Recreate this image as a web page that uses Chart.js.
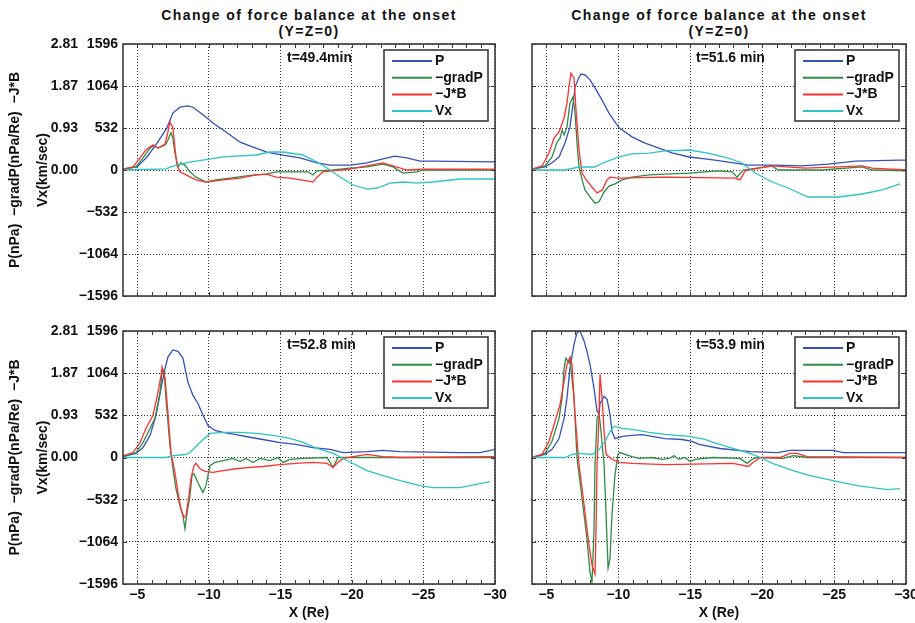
<!DOCTYPE html>
<html>
<head>
<meta charset="utf-8">
<script src="https://cdn.jsdelivr.net/npm/chart.js@4.4.1/dist/chart.umd.min.js"></script>
<style>
  html, body { margin: 0; padding: 0; background: #fff; overflow: hidden; }
  #page { position: relative; width: 915px; height: 623px; }
  canvas { position: absolute; }
  .title { position: absolute; text-align: center; font: bold 14px "Liberation Sans", Arial, sans-serif;
           letter-spacing: 1.4px; line-height: 16px; color: #111; }
</style>
</head>
<body>
<div id="page">
  <div class="title" style="left:123px; top:7px; width:372px">Change of force balance at the onset<br>(Y=Z=0)</div>
  <div class="title" style="left:532px; top:7px; width:374px">Change of force balance at the onset<br>(Y=Z=0)</div>
  <canvas id="c1" width="515" height="310" style="left:0; top:0"></canvas>
  <canvas id="c2" width="430" height="310" style="left:500px; top:0"></canvas>
  <canvas id="c3" width="515" height="313" style="left:0; top:310px"></canvas>
  <canvas id="c4" width="430" height="313" style="left:500px; top:310px"></canvas>
</div>
<script>
// tick labels
const xTicks = [-5, -10, -15, -20, -25, -30];
const forceTicks = [0, 0.93, 1.87, 2.81];
const vxTicks = [-1596, -1064, -532, 0, 532, 1064, 1596];
const timeLabels = ['t=49.4min', 't=51.6 min', 't=52.8 min', 't=53.9 min'];
const seriesNames = ['P', '\u2212gradP', '\u2212J*B', 'Vx'];
const seriesColors = ['#3652b8', '#2e8c46', '#ff3030', '#2cc4c4'];

// [X (Re), value]  P/gradP/JxB in nPa(/Re), Vx in km/sec
// t=49.4
const p1 = [[-4.00,0.02],[-4.98,0.07],[-5.68,0.29],[-6.38,0.60],[-7.07,0.94],[-7.49,1.27],[-7.98,1.40],[-8.54,1.43],[-8.89,1.40],[-9.59,1.23],[-10.29,1.05],[-11.27,0.83],[-12.18,0.62],[-13.09,0.51],[-14.06,0.40],[-15.18,0.33],[-16.37,0.27],[-17.56,0.16],[-18.47,0.11],[-19.86,0.11],[-21.05,0.16],[-22.17,0.25],[-23.01,0.31],[-23.85,0.27],[-24.75,0.20],[-25.66,0.20],[-30.00,0.18]];
const g1 = [[-4.00,0.02],[-4.91,0.07],[-5.40,0.27],[-5.89,0.49],[-6.17,0.54],[-6.45,0.49],[-6.94,0.56],[-7.14,0.67],[-7.35,0.83],[-7.49,0.71],[-7.63,0.38],[-7.84,0.07],[-8.05,0.16],[-8.33,0.11],[-8.68,-0.04],[-9.10,-0.16],[-9.80,-0.27],[-10.50,-0.22],[-11.48,-0.18],[-12.60,-0.13],[-13.31,-0.11],[-14.01,-0.09],[-14.71,-0.04],[-15.67,-0.04],[-16.93,-0.04],[-17.28,-0.11],[-17.56,-0.02],[-18.68,0],[-19.86,0.04],[-21.05,0.07],[-22.17,0.13],[-22.87,0.07],[-23.57,-0.07],[-24.55,-0.04],[-24.96,0],[-30.00,0]];
const j1 = [[-4.00,0.02],[-4.70,0.07],[-5.19,0.27],[-5.61,0.45],[-6.10,0.56],[-6.45,0.49],[-6.94,0.58],[-7.14,0.85],[-7.28,1.07],[-7.49,0.94],[-7.63,0.49],[-7.77,0.11],[-7.98,-0.04],[-8.40,-0.11],[-9.10,-0.22],[-9.80,-0.27],[-10.99,-0.22],[-12.18,-0.18],[-13.31,-0.11],[-14.01,-0.09],[-14.71,-0.16],[-15.67,-0.18],[-16.93,-0.25],[-17.28,-0.27],[-17.56,-0.16],[-17.98,-0.04],[-19.86,0.02],[-21.05,0.09],[-22.17,0.16],[-22.87,0.09],[-23.85,0],[-24.96,0.02],[-30.00,0.02]];
const v1 = [[-4.00,0],[-7.00,13],[-7.70,63],[-8.68,101],[-10.99,165],[-13.31,190],[-14.27,228],[-15.18,228],[-16.58,190],[-17.56,101],[-18.26,25],[-19.17,-89],[-20.08,-190],[-21.05,-241],[-21.75,-228],[-22.66,-165],[-23.57,-152],[-24.55,-165],[-25.66,-152],[-27.55,-114],[-30.00,-114]];
// t=51.6
const p2 = [[-4.00,0.02],[-4.90,0.07],[-5.39,0.16],[-5.88,0.29],[-6.29,0.60],[-6.64,0.96],[-6.92,1.63],[-6.99,1.85],[-7.27,2.07],[-7.41,2.14],[-7.69,2.12],[-8.03,2.01],[-8.38,1.83],[-8.87,1.56],[-9.35,1.27],[-10.05,0.94],[-10.95,0.74],[-11.86,0.60],[-12.83,0.49],[-13.74,0.38],[-14.92,0.29],[-16.03,0.25],[-17.21,0.20],[-18.60,0.13],[-19.02,0.11],[-20.69,0.11],[-22.78,0.09],[-24.58,0.13],[-26.46,0.20],[-29.59,0.22],[-30.00,0.22]];
const g2 = [[-4.00,0.02],[-4.90,0.09],[-5.39,0.29],[-5.74,0.62],[-5.95,0.71],[-6.09,0.89],[-6.23,0.78],[-6.43,0.96],[-6.64,1.49],[-6.85,1.63],[-6.99,1.29],[-7.13,0.60],[-7.27,0.07],[-7.48,-0.22],[-7.69,-0.45],[-8.03,-0.60],[-8.38,-0.74],[-8.66,-0.71],[-9.01,-0.49],[-9.35,-0.36],[-9.77,-0.31],[-10.26,-0.22],[-10.95,-0.16],[-12.14,-0.11],[-13.25,-0.09],[-14.92,-0.07],[-16.93,-0.02],[-17.91,-0.04],[-18.26,-0.16],[-18.67,0],[-20.69,0.09],[-21.10,0],[-24.17,0],[-26.95,0.07],[-27.64,0],[-30.00,-0.02]];
const j2 = [[-4.00,0.02],[-4.70,0.09],[-5.18,0.38],[-5.53,0.71],[-5.88,0.85],[-6.23,1.16],[-6.43,1.49],[-6.57,1.85],[-6.71,2.16],[-6.92,2.05],[-7.06,1.34],[-7.27,0.45],[-7.48,-0.07],[-7.69,-0.18],[-8.17,-0.38],[-8.52,-0.51],[-8.87,-0.45],[-9.22,-0.22],[-9.42,-0.16],[-10.05,-0.18],[-13.25,-0.16],[-18.12,-0.18],[-18.46,-0.22],[-18.81,-0.02],[-19.02,0],[-20.69,0.09],[-22.98,0.04],[-25.28,0.07],[-26.95,0.09],[-27.64,0.04],[-30.00,0]];
const v2 = [[-4.00,0],[-6.29,0],[-7.27,38],[-8.38,38],[-9.08,101],[-10.05,165],[-10.95,203],[-12.14,215],[-13.25,241],[-14.92,253],[-16.24,215],[-17.63,152],[-18.60,89],[-19.51,-38],[-20.69,-152],[-21.80,-228],[-23.19,-342],[-24.17,-342],[-25.28,-342],[-26.95,-304],[-28.34,-253],[-29.59,-177]];
// t=52.8
const p3 = [[-4.00,0.02],[-4.91,0.09],[-5.40,0.22],[-5.89,0.49],[-6.31,0.94],[-6.66,1.54],[-6.94,1.98],[-7.14,2.23],[-7.49,2.39],[-7.84,2.36],[-8.19,2.21],[-8.54,1.67],[-8.89,1.38],[-9.24,1.20],[-9.59,0.94],[-9.94,0.71],[-10.43,0.60],[-10.99,0.56],[-11.90,0.51],[-12.87,0.45],[-13.78,0.40],[-14.97,0.33],[-16.09,0.29],[-17.28,0.22],[-18.47,0.18],[-19.38,0.11],[-21.05,0.13],[-22.17,0.16],[-23.36,0.13],[-27.55,0.11],[-28.95,0.11],[-30.00,0.18]];
const g3 = [[-4.00,0.02],[-4.91,0.11],[-5.40,0.33],[-5.89,0.65],[-6.24,0.87],[-6.59,1.45],[-6.73,1.90],[-6.87,1.94],[-7.00,1.32],[-7.28,0.27],[-7.49,-0.25],[-7.70,-0.69],[-7.98,-1.07],[-8.19,-1.29],[-8.33,-1.58],[-8.47,-1.25],[-8.68,-0.85],[-8.82,-0.40],[-8.96,-0.36],[-9.24,-0.56],[-9.59,-0.78],[-9.80,-0.62],[-10.08,-0.18],[-10.43,-0.11],[-10.99,-0.07],[-11.69,-0.02],[-12.18,-0.09],[-12.60,-0.02],[-13.08,-0.11],[-13.57,-0.02],[-14.27,-0.07],[-14.83,0],[-15.18,-0.11],[-15.67,-0.04],[-16.58,-0.02],[-18.26,0],[-18.68,-0.22],[-19.03,0],[-21.05,0],[-30.00,0]];
const j3 = [[-4.00,0.04],[-4.70,0.11],[-5.19,0.33],[-5.61,0.65],[-6.10,0.94],[-6.45,1.45],[-6.66,1.83],[-6.73,2.01],[-6.94,1.76],[-7.14,1.00],[-7.35,0.11],[-7.63,-0.33],[-7.84,-0.78],[-8.05,-1.14],[-8.26,-1.34],[-8.40,-1.29],[-8.61,-0.85],[-8.75,-0.47],[-8.96,-0.18],[-9.10,-0.13],[-9.38,-0.25],[-9.73,-0.31],[-10.29,-0.33],[-10.99,-0.29],[-11.90,-0.25],[-12.87,-0.22],[-13.78,-0.20],[-14.97,-0.16],[-16.09,-0.13],[-17.28,-0.11],[-18.26,-0.13],[-18.68,-0.22],[-18.96,-0.13],[-19.38,-0.02],[-21.05,0.07],[-22.17,0.02],[-23.36,0],[-30.00,0.02]];
const v3 = [[-4.00,0],[-7.00,0],[-7.49,25],[-8.40,38],[-8.68,63],[-9.38,190],[-10.08,304],[-10.99,317],[-12.18,317],[-13.31,304],[-14.50,279],[-15.67,241],[-16.58,190],[-17.56,114],[-18.68,51],[-19.38,-13],[-21.05,-165],[-22.17,-228],[-23.36,-292],[-24.75,-355],[-25.66,-380],[-27.55,-380],[-29.65,-304]];
// t=53.9
const p4 = [[-4.00,0],[-4.90,0.07],[-5.39,0.18],[-5.88,0.42],[-6.23,0.87],[-6.43,1.32],[-6.64,1.98],[-6.92,2.52],[-7.13,2.77],[-7.34,2.81],[-7.62,2.59],[-7.82,2.36],[-8.03,2.07],[-8.31,1.54],[-8.52,1.03],[-8.66,0.98],[-8.73,1.20],[-9.01,1.36],[-9.22,1.29],[-9.42,0.96],[-9.56,0.58],[-9.77,0.42],[-10.26,0.47],[-10.95,0.49],[-11.65,0.51],[-12.34,0.47],[-13.25,0.42],[-14.43,0.40],[-15.13,0.36],[-15.61,0.29],[-17.07,0.20],[-19.16,0.13],[-21.04,0.11],[-21.94,0.16],[-24.93,0.16],[-25.63,0.11],[-30.00,0.11]];
const g4 = [[-4.00,0],[-4.90,0.09],[-5.39,0.36],[-5.88,0.87],[-6.09,1.32],[-6.23,1.98],[-6.36,2.21],[-6.57,2.10],[-6.64,2.19],[-6.92,1.32],[-7.13,-0.02],[-7.48,-0.91],[-7.82,-1.81],[-8.03,-2.54],[-8.17,-2.77],[-8.31,-1.65],[-8.38,-0.16],[-8.52,0.87],[-8.66,0.96],[-8.73,0.80],[-9.01,-0.16],[-9.15,-1.27],[-9.29,-2.45],[-9.42,-2.25],[-9.56,-1.27],[-9.77,-0.38],[-9.98,0.07],[-10.12,0.11],[-10.47,0.07],[-10.95,0.02],[-11.44,-0.02],[-12.34,0],[-13.04,-0.04],[-13.53,-0.02],[-13.87,0.04],[-14.22,-0.04],[-14.64,0],[-14.99,-0.09],[-15.34,-0.04],[-16.59,0],[-18.46,-0.02],[-18.95,-0.13],[-19.30,-0.04],[-19.65,0],[-21.45,-0.02],[-22.15,0.04],[-23.13,0],[-30.00,0]];
const j4 = [[-4.00,0],[-4.70,0.07],[-5.18,0.36],[-5.60,0.80],[-5.95,1.18],[-6.23,1.69],[-6.43,2.07],[-6.64,2.23],[-6.78,2.07],[-6.99,0.96],[-7.27,-0.16],[-7.62,-1.05],[-7.96,-1.94],[-8.17,-2.39],[-8.38,-2.59],[-8.45,-1.65],[-8.52,-0.16],[-8.66,0.96],[-8.73,1.85],[-8.87,1.32],[-9.01,0.58],[-9.15,0.07],[-9.56,-0.04],[-10.05,-0.11],[-10.95,-0.13],[-13.25,-0.16],[-17.98,-0.13],[-19.02,-0.20],[-19.37,-0.11],[-19.86,0],[-21.25,0],[-21.94,0.09],[-22.43,0.09],[-23.13,0.02],[-30.00,0]];
const v4 = [[-4.00,0],[-6.29,0],[-6.78,38],[-7.27,51],[-8.17,38],[-8.66,101],[-9.08,203],[-9.42,329],[-9.70,392],[-10.26,367],[-10.95,355],[-12.14,317],[-13.25,292],[-14.92,266],[-16.03,228],[-16.59,190],[-17.98,114],[-19.16,51],[-19.86,0],[-20.76,-76],[-22.15,-165],[-23.33,-228],[-24.93,-292],[-26.60,-355],[-28.69,-406],[-29.59,-393]];

const FONT = '"Liberation Sans", Arial, sans-serif';
const tickFont = {family: FONT, size: 14, weight: 'bold'};
const minus = v => String(v).replace('-', '\u2212');

// box, inner tick marks, time stamp and legend
const framePlugin = {
  id: 'frame',
  afterDatasetsDraw(chart, args, opts) {
    const {ctx, chartArea: a, scales} = chart;
    ctx.save();
    ctx.strokeStyle = '#3a3a3a';
    ctx.lineWidth = 1;
    ctx.beginPath();
    for (let v = -5; v >= -30; v--) {
      const x = Math.round(scales.x.getPixelForValue(v)) + 0.5;
      ctx.moveTo(x, a.bottom); ctx.lineTo(x, a.bottom - 4);
      ctx.moveTo(x, a.top); ctx.lineTo(x, a.top + 4);
    }
    vxTicks.forEach(v => {
      const y = Math.round(scales.yV.getPixelForValue(v)) + 0.5;
      ctx.moveTo(a.left, y); ctx.lineTo(a.left + 4, y);
      ctx.moveTo(a.right, y); ctx.lineTo(a.right - 4, y);
    });
    ctx.stroke();
    ctx.lineWidth = 1.6;
    ctx.strokeRect(a.left, a.top, a.right - a.left, a.bottom - a.top);

    ctx.fillStyle = '#111';
    ctx.font = 'bold 14px ' + FONT;
    ctx.textBaseline = 'middle';
    ctx.fillText(opts.time, a.left + 164, a.top + 14);

    const bw = 104, bh = 71, bx = a.right - 7 - bw, by = a.top + 6;
    ctx.fillStyle = '#fff';
    ctx.fillRect(bx, by, bw, bh);
    ctx.strokeRect(bx, by, bw, bh);
    chart.data.datasets.forEach((ds, i) => {
      const y = by + 11 + i * 16.7;
      ctx.strokeStyle = ds.borderColor;
      ctx.lineWidth = 2;
      ctx.beginPath(); ctx.moveTo(bx + 8, y); ctx.lineTo(bx + 48, y); ctx.stroke();
      ctx.fillStyle = '#111';
      ctx.fillText(ds.label, bx + 51, y);
    });
    ctx.restore();
  }
};

function makeChart(id, series, cfg) {
  new Chart(document.getElementById(id), {
    type: 'line',
    data: {
      datasets: series.map((arr, i) => ({
        label: seriesNames[i],
        data: arr.map(([x, y]) => ({x, y})),
        yAxisID: i === 3 ? 'yV' : 'yF',
        borderColor: seriesColors[i],
        borderWidth: 1.3,
        pointRadius: 0,
        tension: 0,
        order: 4 - i
      }))
    },
    options: {
      responsive: false,
      animation: false,
      layout: {padding: {top: cfg.top, right: cfg.right, left: 0, bottom: 0}},
      plugins: {legend: {display: false}, tooltip: {enabled: false}, frame: {time: cfg.time}},
      scales: {
        x: {
          type: 'linear', reverse: true, min: -30, max: -4,
          afterBuildTicks: s => { s.ticks = xTicks.map(value => ({value})); },
          afterFit: s => { s.height = cfg.bottom ? 39 : 14; s.paddingLeft = 0; s.paddingRight = 0; },
          grid: {color: '#333', lineWidth: 1, drawTicks: false},
          border: {display: false, dash: [1, 2]},
          ticks: {display: cfg.bottom, padding: 3, color: '#111', font: tickFont, maxRotation: 0, autoSkip: false, callback: v => minus(v)},
          title: {display: cfg.bottom, text: 'X (Re)', color: '#111', font: tickFont, padding: {top: 0, bottom: 1}}
        },
        yV: {
          position: 'left', weight: 0, min: -1596, max: 1596,
          afterBuildTicks: s => { s.ticks = vxTicks.map(value => ({value})); },
          afterFit: s => { s.width = cfg.left ? 45 : 32; s.paddingTop = 0; s.paddingBottom = 0; },
          grid: {color: '#333', lineWidth: 1, drawTicks: false},
          border: {display: false, dash: [1, 2]},
          ticks: {display: cfg.left, padding: 5, color: '#111', font: tickFont, callback: v => minus(v)}
        },
        yF: {
          display: cfg.left, position: 'left', weight: 1, min: -2.81, max: 2.81,
          afterBuildTicks: s => { s.ticks = forceTicks.map(value => ({value})); },
          afterFit: s => { s.width = cfg.left ? 78 : 0; s.paddingTop = 0; s.paddingBottom = 0; },
          grid: {display: false, drawTicks: false},
          border: {display: false},
          ticks: {padding: 0, color: '#111', font: tickFont, callback: v => v.toFixed(2)},
          title: {
            display: true,
            text: ['P(nPa)  \u2212gradP(nPa/Re)  \u2212J*B', 'Vx(km/sec)'],
            color: '#111',
            font: {family: FONT, size: 14, weight: 'bold', lineHeight: 2},
            padding: {top: 1, bottom: 0}
          }
        }
      }
    },
    plugins: [framePlugin]
  });
}

makeChart('c1', [p1, g1, j1, v1], {top: 44, right: 20, left: true, bottom: false, time: timeLabels[0]});
makeChart('c2', [p2, g2, j2, v2], {top: 44, right: 24, left: false, bottom: false, time: timeLabels[1]});
makeChart('c3', [p3, g3, j3, v3], {top: 21, right: 20, left: true, bottom: true, time: timeLabels[2]});
makeChart('c4', [p4, g4, j4, v4], {top: 21, right: 24, left: false, bottom: true, time: timeLabels[3]});
</script>
</body>
</html>
